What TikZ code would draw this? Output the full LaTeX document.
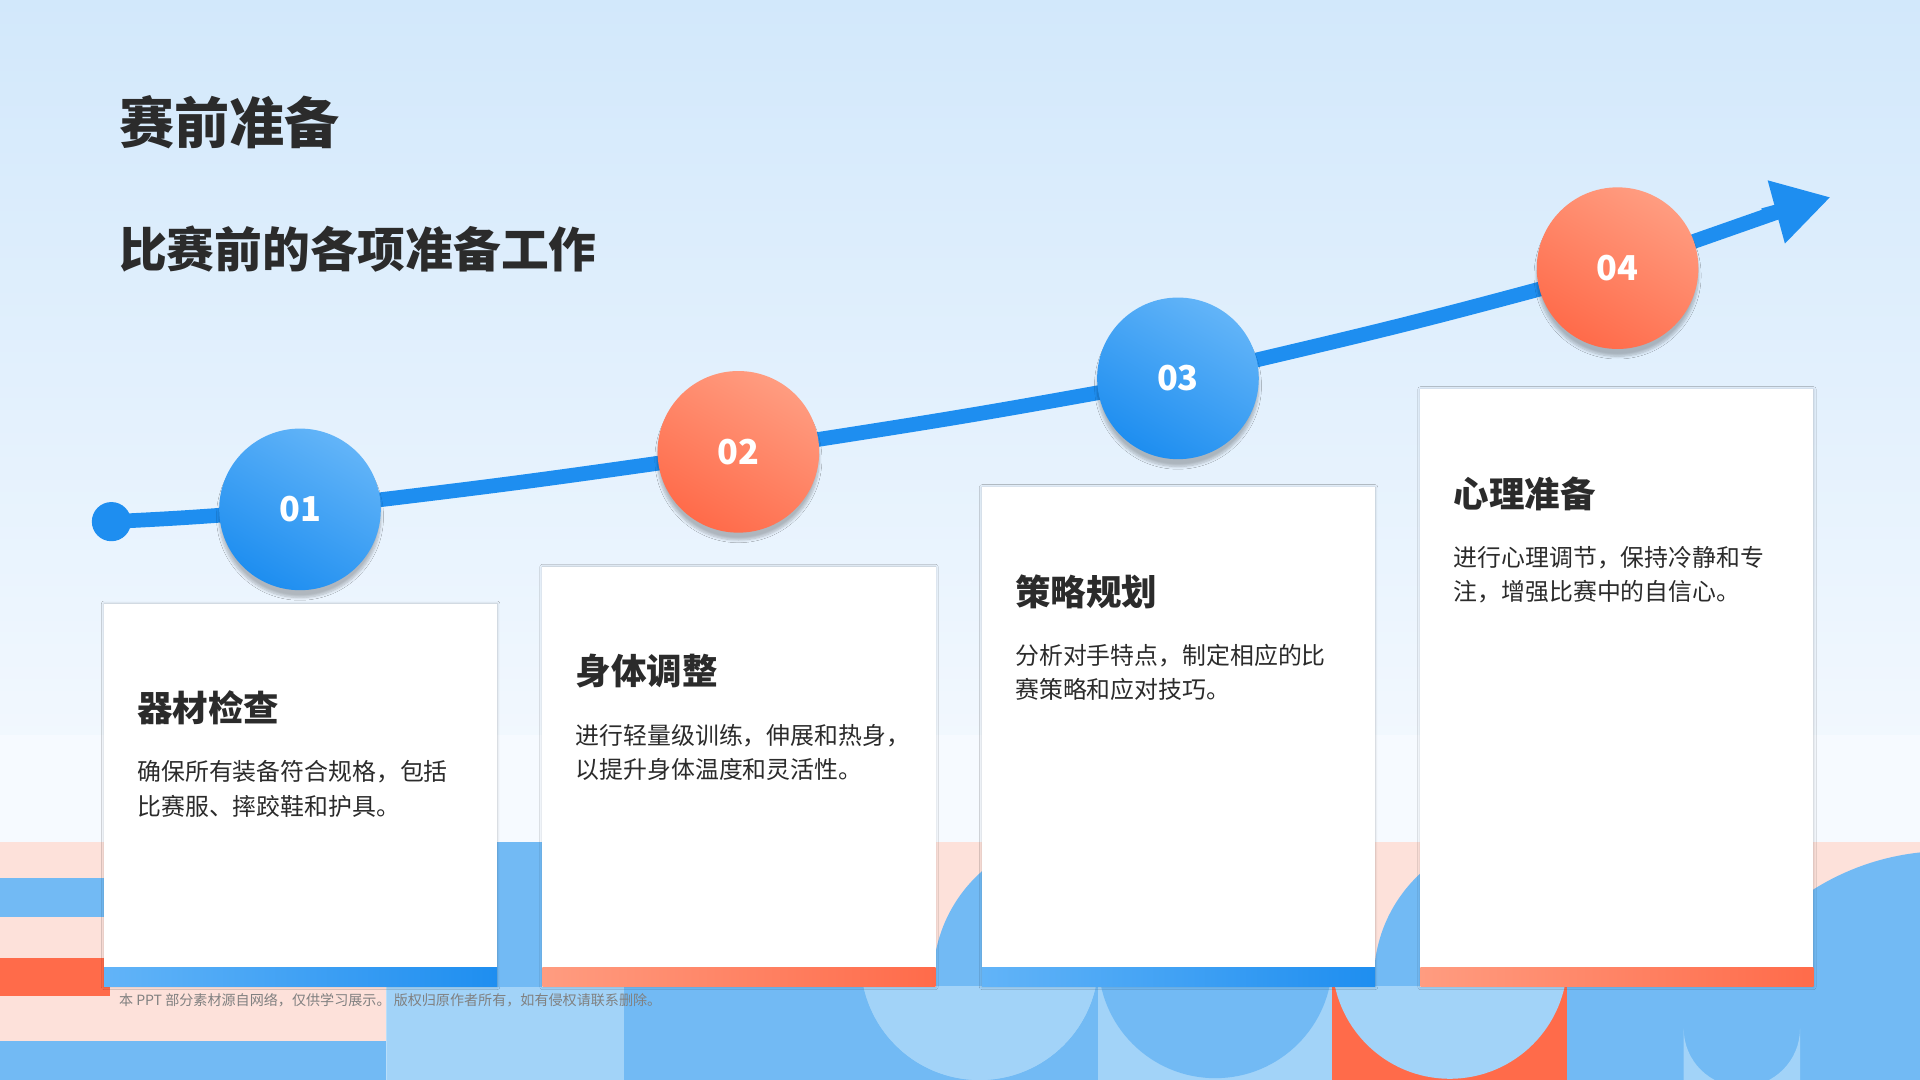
\documentclass[tikz,border=0pt]{standalone}
\usepackage{fontspec}
\setmainfont{Noto Sans CJK SC}
\usetikzlibrary{arrows.meta,shadows.blur}
\definecolor{bgtop}{HTML}{D2E8FB}
\definecolor{bgbot}{HTML}{F6FAFF}
\definecolor{pinkc}{HTML}{FDE1DA}
\definecolor{blueA}{HTML}{72BAF4}
\definecolor{blueL}{HTML}{A2D3F8}
\definecolor{orgA}{HTML}{FF6B4A}
\definecolor{mainblue}{HTML}{1E8EF0}
\definecolor{bluelite}{HTML}{62B4F8}
\definecolor{orglite}{HTML}{FF9C80}
\definecolor{txt}{HTML}{2B2B2B}
\tikzset{
  bluecirc/.style={circle,minimum size=132pt,inner sep=0pt,top color=bluelite,bottom color=mainblue,shading angle=-30,text=white,font=\bfseries\fontsize{28}{30}\selectfont,blur shadow={shadow blur steps=8,shadow xshift=0pt,shadow yshift=-6pt,shadow opacity=25}},
  orgcirc/.style={circle,minimum size=132pt,inner sep=0pt,top color=orglite,bottom color=orgA,shading angle=-30,text=white,font=\bfseries\fontsize{28}{30}\selectfont,blur shadow={shadow blur steps=8,shadow xshift=0pt,shadow yshift=-6pt,shadow opacity=25}},
  card/.style={fill=white,blur shadow={shadow blur steps=10,shadow xshift=0pt,shadow yshift=0pt,shadow opacity=20}},
  ctitle/.style={anchor=west,inner sep=0pt,text=txt,font=\bfseries\fontsize{29}{32}\selectfont},
  cbody/.style={anchor=north west,inner sep=0pt,text=txt,align=left,font=\fontsize{19.5}{28}\selectfont},
}
\begin{document}
\begin{tikzpicture}[x=1pt,y=-1pt]
\useasboundingbox (0,0) rectangle (1568,882);
% background
\shade[top color=bgtop,bottom color=bgbot] (0,0) rectangle (1568,688);
\fill[bgbot] (0,600) rectangle (1568,688);
\fill[pinkc] (0,688) rectangle (1568,882);
% left stripes
\fill[blueA] (0,717) rectangle (90,749);
\fill[orgA] (0,782) rectangle (90,813);
\fill[blueA] (0,850) rectangle (315,882);
\fill[blueL] (315,806) rectangle (510,882);
\fill[blueA] (406,688) rectangle (764,806);
\fill[blueL] (510,806) rectangle (420,882);
\fill[blueA] (510,806) rectangle (703,882);
% circles upper
\fill[blueA] (880,800) circle (118);
\fill[blueA] (1240,800) circle (118);
\fill[blueA] (1590,900) circle (205);
% lower columns
\begin{scope}
\clip (0,806) rectangle (1568,882);
\fill[blueA] (703,806) rectangle (897,882);
\fill[blueL] (703,690) rectangle (897,785) arc[start angle=180,end angle=360,x radius=-97,y radius=-97] -- cycle;
\fill[blueL] (703,785) arc[start angle=180,end angle=0,radius=97] -- (897,700) -- (703,700) -- cycle;
\fill[blueL] (897,806) rectangle (1088,882);
\fill[blueA] (897,785) arc[start angle=180,end angle=0,radius=95.5] -- (1088,700) -- (897,700) -- cycle;
\fill[orgA] (1088,806) rectangle (1280,882);
\fill[blueL] (1088,785) arc[start angle=180,end angle=0,radius=96] -- (1280,700) -- (1088,700) -- cycle;
\fill[blueA] (1280,806) rectangle (1568,882);
\fill[blueL] (1375,882) -- (1375,840) arc[start angle=180,end angle=0,radius=47.5] -- (1470,882) -- cycle;
\end{scope}
\fill[white,opacity=0.25] (315,806) rectangle (316,882);
% title
\node[anchor=west,inner sep=0pt,text=txt,font=\bfseries\fontsize{45}{48}\selectfont] (title) at (97,100) {赛前准备};
\node[anchor=west,inner sep=0pt,text=txt,font=\bfseries\fontsize{39}{42}\selectfont] (sub) at (97,203) {比赛前的各项准备工作};
% cards
\fill[card] (85,493) rectangle (406,806);
\shade[left color=bluelite,right color=mainblue] (85,790) rectangle (406,806);
\fill[card] (443,463) rectangle (764,806);
\shade[left color=orglite,right color=orgA] (443,790) rectangle (764,806);
\fill[card] (802,398) rectangle (1123,806);
\shade[left color=bluelite,right color=mainblue] (802,790) rectangle (1123,806);
\fill[card] (1160,318) rectangle (1481,806);
\shade[left color=orglite,right color=orgA] (1160,790) rectangle (1481,806);
% curve
\node[circle,fill=mainblue,minimum size=32pt,inner sep=0pt] (start) at (91,426) {};
\coordinate (p1) at (245,416);
\coordinate (p2) at (603,369);
\coordinate (p3) at (962,309);
\coordinate (p4) at (1321,219);
\coordinate (tip) at (1495,161);
\draw[mainblue,line width=12pt] (start.center) .. controls (150,423) .. (p1) .. controls (420,395) .. (p2) .. controls (790,340) .. (p3) .. controls (1150,265) .. (p4) -- (1455,172);
\draw[mainblue,line width=12pt,-{Triangle[length=46pt,width=50pt]}] (1440,176) -- (tip);
\node[bluecirc] (c1) at (p1) {01};
\node[orgcirc] (c2) at (p2) {02};
\node[bluecirc] (c3) at (p3) {03};
\node[orgcirc] (c4) at (p4) {04};
% texts
\node[ctitle] (t1) at (112,578) {器材检查};
\node[cbody] (b1) at (112,621) {确保所有装备符合规格，包括\\比赛服、摔跤鞋和护具。};
\node[ctitle] (t2) at (470,548) {身体调整};
\node[cbody] (b2) at (470,591) {进行轻量级训练，伸展和热身，\\以提升身体温度和灵活性。};
\node[ctitle] (t3) at (829,483) {策略规划};
\node[cbody] (b3) at (829,526) {分析对手特点，制定相应的比\\赛策略和应对技巧。};
\node[ctitle] (t4) at (1187,403) {心理准备};
\node[cbody] (b4) at (1187,446) {进行心理调节，保持冷静和专\\注，增强比赛中的自信心。};
\node[anchor=west,inner sep=0pt,text=gray,font=\fontsize{11.5}{13}\selectfont] (foot) at (97,817) {本 PPT 部分素材源自网络，仅供学习展示。 版权归原作者所有，如有侵权请联系删除。};
\end{tikzpicture}
\end{document}
